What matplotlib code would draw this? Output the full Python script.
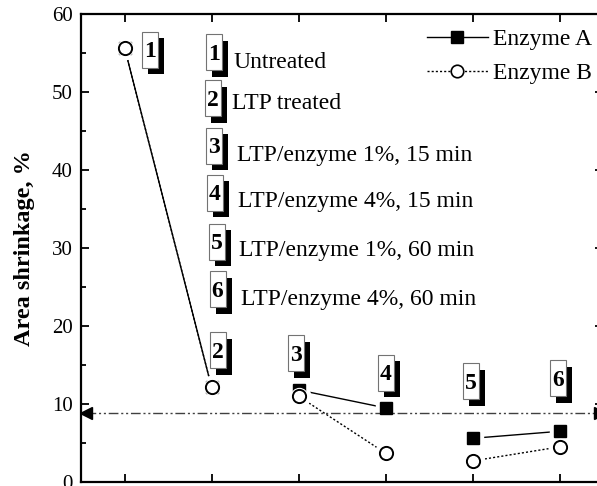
import matplotlib
matplotlib.use("Agg")
import matplotlib.pyplot as plt
from matplotlib.patches import Rectangle
from matplotlib.lines import Line2D
from matplotlib.transforms import ScaledTranslation

# ----------------------------------------------
#                DATA
# ----------------------------------------------
samples = [1, 2, 3, 4, 5, 6]
enzymeA = [55.7, 12.2, 11.8, 9.5, 5.6, 6.5]
enzymeB = [55.7, 12.2, 11.0, 3.7, 2.7, 4.5]
segments = [(0, 1), (2, 3), (4, 5)]      # which points are joined
reference_level = 8.8
treatments = ["Untreated", "LTP treated", "LTP/enzyme 1%, 15 min",
              "LTP/enzyme 4%, 15 min", "LTP/enzyme 1%, 60 min",
              "LTP/enzyme 4%, 60 min"]

# label layout (data coords)
point_box_pos = [(1.29, 55.4), (2.07, 16.9), (2.97, 16.5),
                 (4.00, 14.0), (4.98, 12.9), (5.98, 13.3)]
list_box_pos = [(2.03, 55.1), (2.02, 49.2), (2.03, 43.1),
                (2.04, 37.1), (2.06, 30.8), (2.07, 24.7)]
list_text_pos = [(2.25, 53.8), (2.24, 48.5), (2.29, 41.9),
                 (2.31, 36.0), (2.32, 29.7), (2.34, 23.4)]

plt.rcParams['font.family'] = ['Liberation Serif', 'DejaVu Serif']

fig = plt.figure(figsize=(5.97, 4.86), dpi=100)
ax = fig.add_axes([81 / 597, 4 / 486, 522 / 597, 468 / 486])

# connecting lines
for i, j in segments:
    ax.plot(samples[i:j + 1], enzymeA[i:j + 1], color='k', lw=1.0, zorder=2)
    ax.plot(samples[i:j + 1], enzymeB[i:j + 1], color='k', lw=1.0,
            ls=(0, (1.5, 1.5)), zorder=2)

# white halos so the lines stop short of the symbols
ax.plot(samples, enzymeA, ls='none', marker='s', ms=14, mfc='w', mec='w', zorder=3)
ax.plot(samples, enzymeB, ls='none', marker='o', ms=16, mfc='w', mec='w', zorder=3)

# reference level with arrow heads
ax.plot([0.555, 6.46], [reference_level] * 2, color='0.25', lw=1.0,
        ls=(0, (7, 2, 1.5, 2, 1.5, 2)), zorder=3.5, clip_on=False)
ax.plot([0.555], [reference_level], marker='<', ms=8, color='k', zorder=3.5, clip_on=False)
ax.plot([6.46], [reference_level], marker='>', ms=8, color='k', zorder=3.5, clip_on=False)

ax.plot(samples, enzymeA, ls='none', marker='s', ms=9, mfc='k', mec='k', zorder=4)
ax.plot(samples, enzymeB, ls='none', marker='o', ms=11.5, mfc='w', mec='w', zorder=4.5)
ax.plot(samples, enzymeB, ls='none', marker='o', ms=9.5, mfc='w', mec='k',
        mew=1.4, zorder=5)


def number_box(x, y, s):
    w, h = 0.16, 0.36
    tr = fig.dpi_scale_trans + ScaledTranslation(x, y, ax.transData)
    ax.add_patch(Rectangle((-w / 2 + 0.06, -h / 2 - 0.065), w, h, transform=tr,
                           fc='k', ec='none', zorder=6, clip_on=False))
    ax.add_patch(Rectangle((-w / 2, -h / 2), w, h, transform=tr,
                           fc='w', ec='0.45', lw=0.8, zorder=7, clip_on=False))
    ax.text(0, -0.075, s, transform=tr, ha='center', va='baseline', fontsize=17,
            fontweight='bold', zorder=8)


for k, (x, y) in enumerate(point_box_pos):
    number_box(x, y, str(k + 1))
for k, (x, y) in enumerate(list_box_pos):
    number_box(x, y, str(k + 1))
for (x, y), t in zip(list_text_pos, treatments):
    ax.text(x, y, t, ha='left', va='center', fontsize=17, zorder=8)

handles = [Line2D([], [], color='k', lw=1.0, marker='s', ms=8, mfc='k'),
           Line2D([], [], color='k', lw=1.0, ls=(0, (1.5, 1.5)), marker='o',
                  ms=9, mfc='w', mew=1.2)]
ax.legend(handles, ["Enzyme A", "Enzyme B"], loc='upper right',
          bbox_to_anchor=(594 / 597, 1 - 26 / 486), bbox_transform=fig.transFigure,
          frameon=False, fontsize=17, handlelength=2.6, handletextpad=0.2,
          labelspacing=0.55, borderpad=0.1, borderaxespad=0)

ax.set_xlim(0.5, 6.5)
ax.set_ylim(0, 60)
ax.set_xticks(samples)
ax.set_yticks(range(0, 61, 10))
ax.set_yticks(range(5, 60, 10), minor=True)
ax.tick_params(which='major', direction='in', length=6, width=1.3,
               top=True, right=True, labelbottom=False, labelsize=15, pad=6)
ax.tick_params(which='minor', direction='in', length=3.5, width=1.3, right=False)
for sp in ax.spines.values():
    sp.set_linewidth(1.6)
ax.set_ylabel("Area shrinkage, %", fontsize=17.5, fontweight='bold', labelpad=12)

fig.savefig("out.png", dpi=100)
